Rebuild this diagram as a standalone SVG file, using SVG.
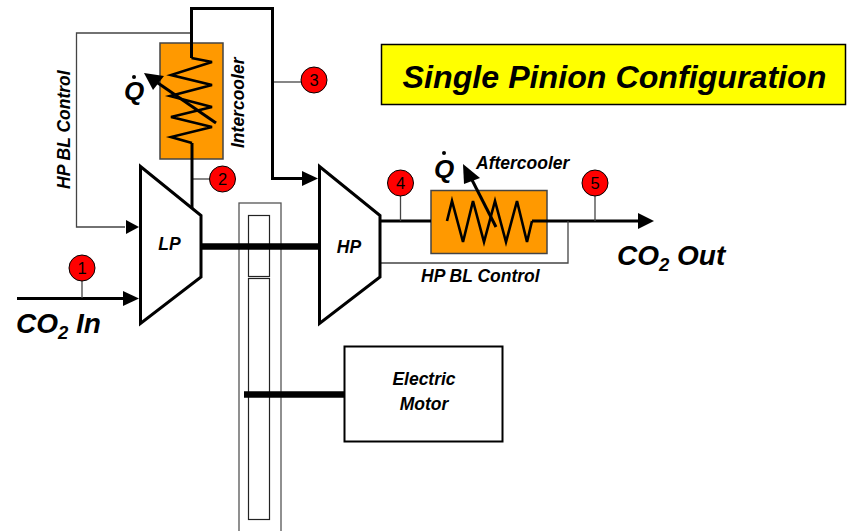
<svg xmlns="http://www.w3.org/2000/svg" width="848" height="531" viewBox="0 0 848 531">
<style>
text{font-family:"Liberation Sans",Arial,sans-serif;font-weight:bold;font-style:italic;fill:#000}
.thin{fill:none;stroke:#444;stroke-width:1.3}
.pipe{fill:none;stroke:#000;stroke-width:3}
.coil{fill:none;stroke:#000;stroke-width:2.600}
.comp{fill:#fff;stroke:#000;stroke-width:3}
.hx{fill:#ff9900;stroke:#444;stroke-width:1.5}
.tag{fill:#ff0000;stroke:#000;stroke-width:1}
.num{font-style:normal;font-weight:normal;font-size:16.500px;text-anchor:middle}
.shaft{fill:none;stroke:#000;stroke-width:6.5}
.lab{font-size:17.500px}
.q{font-size:26px}
.co{font-size:28px}
.sub{font-size:18.500px}
</style>
<g id="gearbox">
<rect x="239" y="203" width="42" height="330" fill="#fff" stroke="#555" stroke-width="1.3"/>
<rect x="248.500" y="215.500" width="21" height="61" fill="#fff" stroke="#222" stroke-width="1.2"/>
<rect x="248.500" y="278.500" width="21" height="241" fill="#fff" stroke="#222" stroke-width="1.2"/>
</g>
<g id="intercooler">
<rect class="hx" x="160" y="43" width="63" height="116"/>
<path class="coil" d="M191.500,58L212,62L171,75L212,85L170,96L212,107L171,117L212,127L171,137L192,143"/>
<text x="124" y="100" class="q">Q</text>
<circle cx="134" cy="77" r="2" fill="#000"/>
<text transform="translate(243.500,148) rotate(-90)" class="lab">Intercooler</text>
</g>
<g id="aftercooler">
<rect class="hx" x="431" y="190.500" width="116" height="63"/>
<path class="coil" d="M447,221L452,201L463,242L473,201L484,242L495,201L506,242L517,201L527,242L532,221"/>
<text x="434" y="178" class="q">Q</text>
<circle cx="444" cy="153" r="2" fill="#000"/>
<text x="476" y="169" class="lab">Aftercooler</text>
</g>
<g id="connectors">
<path class="thin" d="M191,33H76.500V227H125"/>
<path d="M126,220L139,227L126,234z" fill="#000"/>
<path class="thin" d="M273,82H301"/>
<path class="thin" d="M193,179H209"/>
<path class="pipe" d="M191.500,58V8.500H272.500V178.500H304"/>
<path d="M302,171L318,178.500L302,186z" fill="#000"/>
<path class="pipe" d="M192,143V208"/>
<path class="shaft" d="M201,246.500H319"/>
<path class="shaft" d="M244,394.500H344"/>
<path class="pipe" d="M17,298.500H125" stroke-width="2.500"/>
<path d="M123,291L139,298.500L123,306z" fill="#000"/>
<path class="thin" d="M82,280V298"/>
<path class="pipe" d="M380,221H431"/>
<path class="thin" d="M400.500,194V221"/>
<path class="pipe" d="M532,221H640"/>
<path d="M638,213L654,221L638,229z" fill="#000"/>
<path class="thin" d="M595,195V221"/>
<path class="thin" d="M380,263H568V221"/>
<path d="M216,123L155,81" stroke="#000" stroke-width="3" fill="none"/>
<path d="M144,73L164,76L153,90z" fill="#000"/>
<path d="M496,227L470,176" stroke="#000" stroke-width="3" fill="none"/>
<path d="M463,164L480,178L464,184z" fill="#000"/>
</g>
<g id="lp-compressor">
<path class="comp" d="M140.500,166.500L201,215.500V277L140.500,323.500z"/>
<text x="169.500" y="250" class="lab" text-anchor="middle">LP</text>
</g>
<g id="hp-compressor">
<path class="comp" d="M319.500,166.500L380,215.500V277L319.500,323.500z"/>
<text x="349" y="253" class="lab" text-anchor="middle">HP</text>
</g>
<g id="motor">
<rect x="344.500" y="346.500" width="158" height="95" fill="#fff" stroke="#000" stroke-width="2"/>
<text x="424" y="385" class="lab" text-anchor="middle">Electric</text>
<text x="424" y="410" class="lab" text-anchor="middle">Motor</text>
</g>
<g id="tag1"><circle class="tag" cx="82" cy="268" r="13"/><text class="num" x="82" y="274">1</text></g>
<g id="tag2"><circle class="tag" cx="222.500" cy="179" r="13"/><text class="num" x="222.500" y="185">2</text></g>
<g id="tag3"><circle class="tag" cx="314" cy="80" r="13"/><text class="num" x="314" y="86">3</text></g>
<g id="tag4"><circle class="tag" cx="400.500" cy="183" r="13"/><text class="num" x="400.500" y="189">4</text></g>
<g id="tag5"><circle class="tag" cx="595" cy="183" r="13"/><text class="num" x="595" y="189">5</text></g>
<g id="labels">
<text transform="translate(70,189) rotate(-90)" class="lab">HP BL Control</text>
<text x="421" y="282" class="lab">HP BL Control</text>
<text x="16" y="333" class="co">CO<tspan class="sub" dy="6">2</tspan><tspan dy="-6"> In</tspan></text>
<text x="617" y="265" class="co">CO<tspan class="sub" dy="6">2</tspan><tspan dy="-6"> Out</tspan></text>
</g>
<g id="title">
<rect x="381.500" y="44.500" width="464" height="60" fill="#ffff00" stroke="#000" stroke-width="1.500"/>
<text x="614.500" y="88" font-size="32.200" text-anchor="middle">Single Pinion Configuration</text>
</g>
</svg>
